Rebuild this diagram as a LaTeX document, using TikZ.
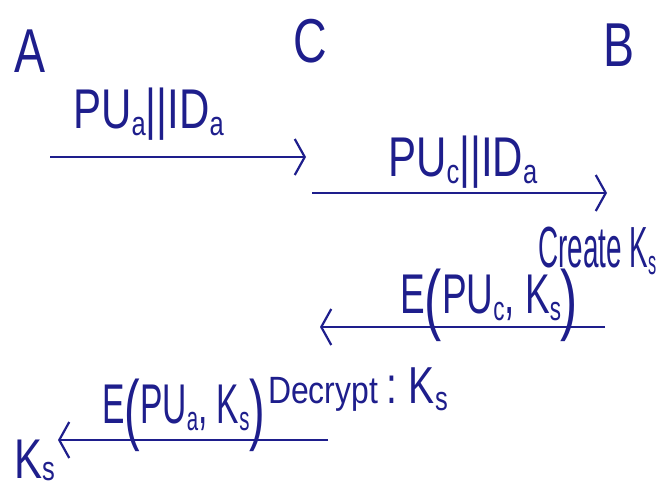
\documentclass[tikz,border=0pt]{standalone}
\usepackage{fontspec}
\setmainfont{Liberation Sans}[FakeStretch=0.75]
\usetikzlibrary{arrows.meta}
\definecolor{ink}{RGB}{30,30,140}
\newcommand{\subx}[1]{\raisebox{-7pt}{\fontsize{34}{34}\selectfont #1}}
\newcommand{\bigp}[1]{\raisebox{-12pt}{\fontsize{78}{78}\selectfont #1}}
\tikzset{
  lbl/.style={text=ink, inner sep=0pt, anchor=base west, font=\fontsize{56}{56}\selectfont},
  party/.style={lbl, font=\fontsize{62}{62}\selectfont},
  msg/.style={draw=ink, line width=2.2pt, -{Straight Barb[length=10pt,width=36pt,line width=2.2pt]}}
}
\begin{document}
\begin{tikzpicture}[x=1pt,y=-1pt]
\useasboundingbox (0,0) rectangle (668,490);
\node[party] (A) at (14,72) {A};
\node[party] (C) at (293,62) {C};
\node[party] (B) at (603,66) {B};

\coordinate (a1s) at (50,157);
\coordinate (a1e) at (306,157);
\draw[msg] (a1s) -- (a1e);
\node[lbl] (m1) at (73,128) {PU\subx{a}||ID\subx{a}};

\coordinate (a2s) at (312,193);
\coordinate (a2e) at (607,193);
\draw[msg] (a2s) -- (a2e);
\node[lbl] (m2) at (388,176) {PU\subx{c}||ID\subx{a}};

\node[lbl, font=\fontsize{58}{58}\selectfont] (cr) at (538,267) {\scalebox{0.64}[1]{Create K\subx{s}}};

\coordinate (a3s) at (605,327);
\coordinate (a3e) at (320,327);
\draw[msg] (a3s) -- (a3e);
\node[lbl] (m3) at (400,313) {\scalebox{0.88}[1]{E\bigp{(}PU\subx{c}, K\subx{s}\bigp{)}}};

\coordinate (a4s) at (328,440);
\coordinate (a4e) at (58,440);
\draw[msg] (a4s) -- (a4e);
\node[lbl] (m4) at (102,423) {\scalebox{0.8}[1]{E\bigp{(}PU\subx{a}, K\subx{s}\bigp{)}}};
\node[lbl, font=\fontsize{38}{38}\selectfont] (dec) at (268,403) {\scalebox{1.12}[1]{Decrypt}\hspace{8pt}{\fontsize{52}{52}\selectfont:\hspace{12pt}K\subx{s}}};

\node[lbl] (ks) at (14,478) {K\raisebox{5pt}{\subx{s}}};
\end{tikzpicture}
\end{document}
